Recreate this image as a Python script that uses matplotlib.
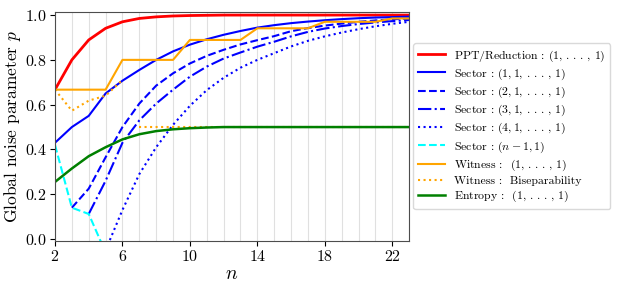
import matplotlib
matplotlib.use("Agg")
import matplotlib.pyplot as plt
import numpy as np

plt.rcParams["font.family"] = "serif"
plt.rcParams["font.serif"] = ["cmr10"]
plt.rcParams["mathtext.fontset"] = "cm"
plt.rcParams["axes.formatter.use_mathtext"] = True

n = np.arange(2, 24)
nan = np.nan

# values
ppt = [0.667, 0.800, 0.889, 0.941, 0.970, 0.985, 0.992, 0.996, 0.998, 0.999, 1.0,
       1.0, 1.0, 1.0, 1.0, 1.0, 1.0, 1.0, 1.0, 1.0, 1.0, 1.0]
sec_1 = [0.43, 0.50, 0.55, 0.65, 0.707, 0.755, 0.80, 0.838, 0.868, 0.892, 0.912,
         0.929, 0.944, 0.955, 0.964, 0.971, 0.977, 0.982, 0.986, 0.989, 0.991, 0.993]
sec_2 = [nan, 0.14, 0.225, 0.365, 0.50, 0.605, 0.685, 0.74, 0.784, 0.818, 0.845,
         0.869, 0.888, 0.906, 0.928, 0.942, 0.953, 0.962, 0.970, 0.976, 0.981, 0.985]
sec_3 = [nan, nan, 0.112, 0.26, 0.43, 0.53, 0.605, 0.667, 0.725, 0.77, 0.806,
         0.833, 0.859, 0.881, 0.905, 0.925, 0.94, 0.951, 0.96, 0.967, 0.973, 0.978]
sec_4 = [nan, nan, nan, -0.05, 0.13, 0.29, 0.41, 0.51, 0.595, 0.665, 0.72,
         0.765, 0.80, 0.83, 0.86, 0.885, 0.905, 0.922, 0.937, 0.95, 0.961, 0.97]
n_sec_n1 = [2, 3, 4, 5]
sec_n1 = [0.42, 0.14, 0.112, -0.06]
witness = [0.667, 0.667, 0.667, 0.667, 0.8, 0.8, 0.8, 0.8, 0.889, 0.889, 0.889,
           0.889, 0.941, 0.941, 0.941, 0.941, 0.970, 0.970, 0.970, 0.970, 0.985, 0.985]
n_bisep_a = [2, 3, 4, 5, 6]
bisep_a = [0.667, 0.573, 0.618, 0.64, 0.71]
n_bisep_b = np.arange(7, 24)
bisep_b = [0.5] * 17
entropy = [0.255, 0.315, 0.37, 0.41, 0.445, 0.468, 0.482, 0.49, 0.495, 0.498, 0.5,
           0.5, 0.5, 0.5, 0.5, 0.5, 0.5, 0.5, 0.5, 0.5, 0.5, 0.5]

fig = plt.figure(figsize=(6.18, 2.93), dpi=100)
ax = fig.add_axes([0.089, 0.178, 0.573, 0.782])

dots = r"\,.\,.\,.\,,\,1)$"
ones = r"$(1," + dots
ax.plot(n, ppt, color="red", lw=2, label="PPT/Reduction : " + ones)
ax.plot(n, sec_1, color="blue", lw=1.5, label=r"Sector : $(1,1," + dots)
ax.plot(n, sec_2, color="blue", lw=1.5, ls="--", label=r"Sector : $(2,1," + dots)
ax.plot(n, sec_3, color="blue", lw=1.5, ls="-.", label=r"Sector : $(3,1," + dots)
ax.plot(n, sec_4, color="blue", lw=1.5, ls=":", label=r"Sector : $(4,1," + dots)
ax.plot(n_sec_n1, sec_n1, color="cyan", lw=1.5, ls="--", label=r"Sector : $(n-1,1)$")
ax.plot(n, witness, color="orange", lw=1.5, label="Witness :  " + ones)
ax.plot(n_bisep_a, bisep_a, color="orange", lw=1.5, ls=":", label="Witness :  Biseparability")
ax.plot(n_bisep_b, bisep_b, color="orange", lw=1.5, ls=":")
ax.plot(n, entropy, color="green", lw=1.8, label="Entropy :  " + ones)

ax.set_xlim(2, 23)
ax.set_ylim(-0.008, 1.015)
ax.set_xticks([2, 6, 10, 14, 18, 22])
ax.set_xticks(np.arange(2, 24), minor=True)
ax.set_yticks([0, 0.2, 0.4, 0.6, 0.8, 1.0])
ax.tick_params(axis="x", which="minor", length=0)
ax.tick_params(labelsize=11.5, pad=2.5)
ax.grid(axis="x", which="both", color="0.88", lw=0.8)
ax.set_axisbelow(True)
for s in ax.spines.values():
    s.set_color("0.3")

ax.set_xlabel(r"$n$", fontsize=14, labelpad=1)
ax.set_ylabel(r"Global noise parameter $p$", fontsize=12.5, labelpad=1)

ax.legend(loc="center left", bbox_to_anchor=(1.0, 0.5), fontsize=8.5,
          handlelength=2.3, handletextpad=0.75, labelspacing=0.25,
          borderaxespad=0.35, framealpha=1, edgecolor="0.85")

fig.savefig("out.png", dpi=100)
